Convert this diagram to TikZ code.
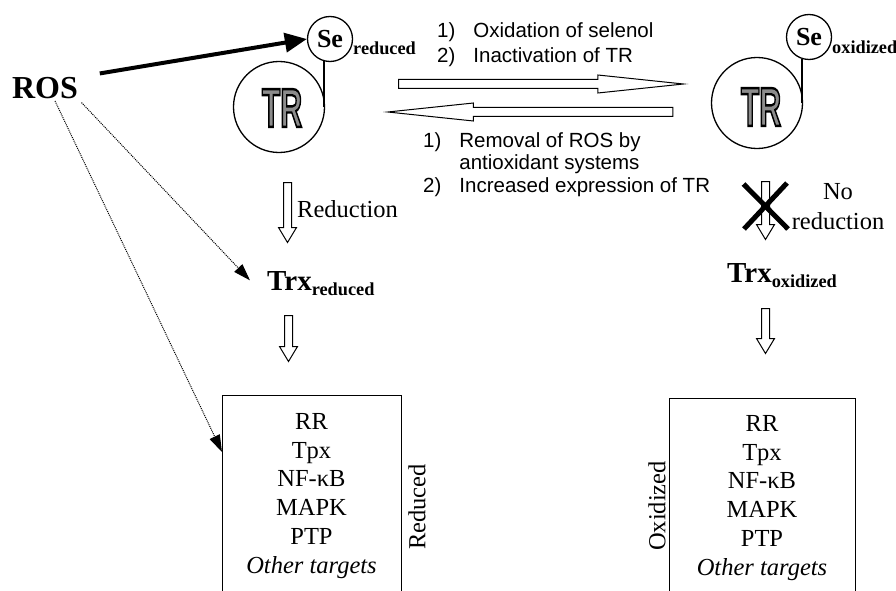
\documentclass[tikz,border=0pt]{standalone}
\usepackage{graphicx}
\usepackage{fontspec}
\setmainfont{Liberation Serif}
\newfontfamily\arialfont{Liberation Sans}
\usetikzlibrary{
  arrows.meta,
  positioning,
  shapes.arrows,
  calc
}
% outlined TR: black stroke, gray fill
\newcommand\trtext{\scalebox{0.55}[1]{\arialfont\bfseries\fontsize{55}{55}\selectfont
  \special{pdf:literal direct 2 Tr 2.4 w 0.55 g}TR\special{pdf:literal direct 0 Tr 0 g}}}

\begin{document}
\begin{tikzpicture}[
  x=1pt, y=-1pt,
  every node/.style={inner sep=0pt},
  tr/.style={circle, draw, line width=1.3pt, minimum size=91pt},
  se/.style={
    circle, draw, line width=1.3pt, minimum size=45pt,
    font=\fontsize{26}{26}\selectfont\bfseries
  },
  sub/.style={anchor=base west, font=\fontsize{18.3}{20}\selectfont\bfseries},
  trx/.style={anchor=base west, font=\fontsize{29}{30}\selectfont\bfseries},
  harr/.style={
    single arrow, draw, line width=1pt, inner ysep=4pt,
    single arrow head extend=4.5pt, single arrow tip angle=12,
    minimum height=285pt
  },
  varr/.style={
    single arrow, draw, line width=1pt, inner sep=3.5pt,
    single arrow head extend=5pt, single arrow tip angle=62,
    shape border rotate=270, anchor=tail
  },
  boldarr/.style={-{Triangle[length=22pt,width=19pt]}, line width=4pt},
  dotarr/.style={-{Triangle[length=17pt,width=11pt]}, densely dotted, line width=1pt},
  link/.style={line width=1.3pt},
  cross/.style={line width=5pt},
  tgtbox/.style={draw, line width=1.3pt, anchor=north west, minimum height=260pt},
  tgtlist/.style={anchor=north, align=center, font=\fontsize{24.5}{28.8}\selectfont},
  side/.style={rotate=90, font=\fontsize{24.5}{28}\selectfont},
  steps/.style={anchor=base west, font=\arialfont\fontsize{20.5}{25}\selectfont},
  plain/.style={font=\fontsize{24.5}{30}\selectfont},
]
\useasboundingbox (0,0) rectangle (896,591);

% ROS
\node[font=\fontsize{32}{32}\selectfont\bfseries] (ROS) at (45,88) {ROS};

% TR, reduced
\node[tr] (trL) at (279,107) {};
\node[se] (seL) at (330,39) {Se};
\node[sub] (seLsub) at (353,55) {reduced};
\draw[link] (seL.-105) -- (seL.-105 |- trL.east);
\node (trLt) at ($(trL)+(3,1)$) {\trtext};

% TR, oxidized
\node[tr] (trR) at (757,103) {};
\node[se] (seR) at (809,37) {Se};
\node[sub] (seRsub) at (832,54) {oxidized};
\draw[link] (seR.-108) -- (seR.-108 |- trR.east);
\node (trRt) at ($(trR)+(4,4)$) {\trtext};

% exchange arrows
\node[harr, anchor=tail] (fwd) at (398,84) {};
\node[harr, shape border rotate=180, anchor=tip] (back) at (383,112) {};
\node[steps] (fwdTxt) at (437,38) {%
  \begin{tabular}[t]{@{}l@{\hspace{18pt}}l@{}}
    1) & Oxidation of selenol\\
    2) & Inactivation of TR
  \end{tabular}};
\node[steps, font=\arialfont\fontsize{20.5}{22.5}\selectfont] (backTxt) at (423,147) {%
  \begin{tabular}[t]{@{}l@{\hspace{18pt}}l@{}}
    1) & Removal of ROS by\\
       & antioxidant systems\\
    2) & Increased expression of TR
  \end{tabular}};

% left column
\node[varr, minimum height=60pt] (redArr) at (287.5,182) {};
\node[plain, anchor=base west] (redTxt) at (297,217) {Reduction};
\node[trx] (trxL) at (267,290) {Trx\raisebox{-5.5pt}{\fontsize{18.3}{20}\selectfont reduced}};
\node[varr, minimum height=46pt] (downL) at (288.5,315) {};
\node[tgtbox, minimum width=179pt] (boxL) at (222,395) {};
\node[tgtlist] (listL) at (311.5,413) {RR\\Tpx\\NF-κB\\MAPK\\PTP\\\textit{Other targets}};
\node[side] (redSide) at (417,507) {Reduced};

% right column
\node[varr, minimum height=58pt] (noArr) at (765.5,181) {};
\draw[cross] ($(noArr.tail)+(-22,3)$) -- ($(noArr.tail)+(22.5,48)$);
\draw[cross] ($(noArr.tail)+(21.5,2)$) -- ($(noArr.tail)+(-21.5,48)$);
\node[plain, align=center] (noTxt) at (838,207) {No\\reduction};
\node[trx] (trxR) at (727,282) {Trx\raisebox{-5.5pt}{\fontsize{18.3}{20}\selectfont oxidized}};
\node[varr, minimum height=45pt] (downR) at (765.5,308) {};
\node[tgtbox, minimum width=186pt] (boxR) at (669,398) {};
\node[tgtlist] (listR) at (762,415) {RR\\Tpx\\NF-κB\\MAPK\\PTP\\\textit{Other targets}};
\node[side] (oxSide) at (657,506) {Oxidized};

% ROS arrows
\draw[boldarr, shorten <=22pt] (ROS.north east) -- (seL.west);
\draw[dotarr, shorten <=5pt] (ROS.south east) -- ($(trxL.west)+(-17,-3)$);
\draw[dotarr] ($(ROS.south)+(10,2)$) -- ($(boxL.north west)+(0,57)$);

\end{tikzpicture}
\end{document}
